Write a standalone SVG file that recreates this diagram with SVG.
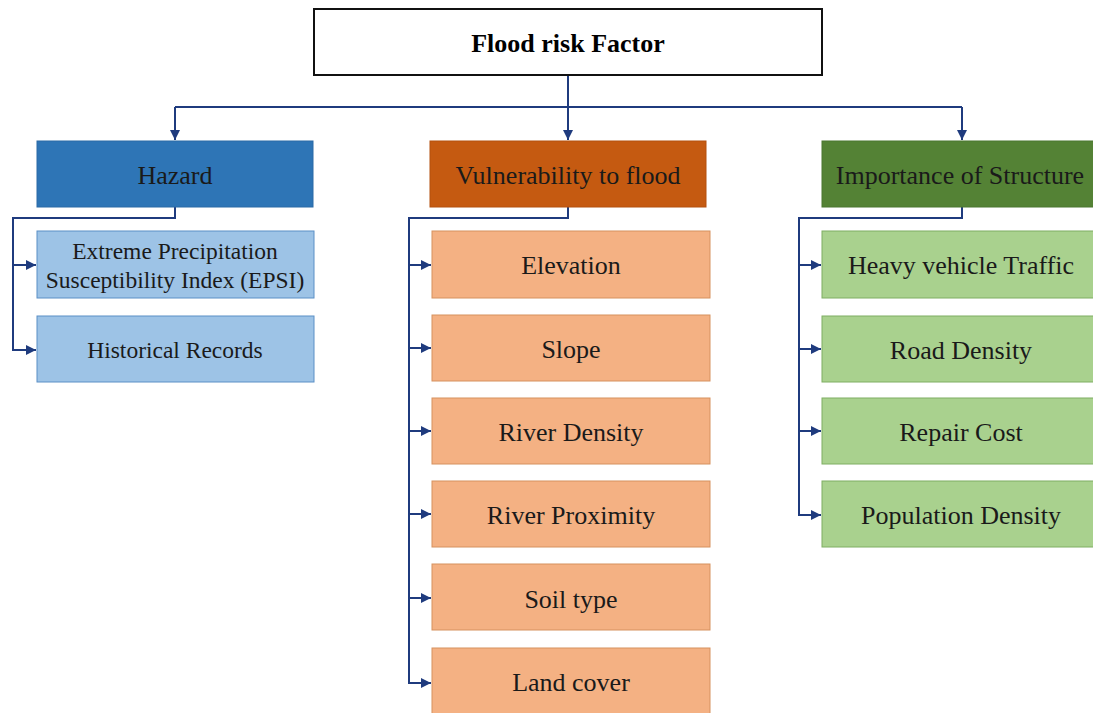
<svg xmlns="http://www.w3.org/2000/svg" width="1093" height="713" viewBox="0 0 1093 713">
<style>
text{font-family:'Liberation Serif','Times New Roman','DejaVu Serif',serif;font-size:26px;fill:#1a1a1a;text-anchor:middle;dominant-baseline:central}
.title{font-weight:bold;font-size:26px;fill:#000}
.s{font-size:23.5px}
.c{fill:none;stroke:#1f3b7e;stroke-width:2}
.hz{fill:#2e75b6;stroke:#2a6aa6;stroke-width:1}
.vu{fill:#c55a11;stroke:#b4510f;stroke-width:1}
.im{fill:#548235;stroke:#4b7630;stroke-width:1}
.hzc{fill:#9dc3e6;stroke:#5b8fc6;stroke-width:1}
.vuc{fill:#f4b183;stroke:#d6915f;stroke-width:1}
.imc{fill:#a9d18e;stroke:#7fae62;stroke-width:1}
</style>
<defs>
<marker id="a" viewBox="0 0 10 10" refX="10" refY="5" markerWidth="5" markerHeight="5" orient="auto" markerUnits="strokeWidth">
<path d="M0,0 L10,5 L0,10 z" fill="#1f3b7e"/>
</marker>
</defs>
<g id="connectors">
<path class="c" d="M568,75 V140" marker-end="url(#a)"/>
<path class="c" d="M175,107 H962"/>
<path class="c" d="M175,107 V140" marker-end="url(#a)"/>
<path class="c" d="M962,107 V140" marker-end="url(#a)"/>
<path class="c" d="M175,207 V218 H13 V350 H36" marker-end="url(#a)"/>
<path class="c" d="M13,265 H36" marker-end="url(#a)"/>
<path class="c" d="M568,207 V218 H409 V683 H431" marker-end="url(#a)"/>
<path class="c" d="M409,265 H431" marker-end="url(#a)"/>
<path class="c" d="M409,348 H431" marker-end="url(#a)"/>
<path class="c" d="M409,431 H431" marker-end="url(#a)"/>
<path class="c" d="M409,514 H431" marker-end="url(#a)"/>
<path class="c" d="M409,598 H431" marker-end="url(#a)"/>
<path class="c" d="M962,207 V218 H799 V515 H821" marker-end="url(#a)"/>
<path class="c" d="M799,265 H821" marker-end="url(#a)"/>
<path class="c" d="M799,349 H821" marker-end="url(#a)"/>
<path class="c" d="M799,431 H821" marker-end="url(#a)"/>
</g>
<g id="root"><rect x="314" y="9" width="508" height="66" fill="#fff" stroke="#111" stroke-width="2"/><text class="title" x="568" y="43">Flood risk Factor</text></g>
<g id="hazard"><rect class="hz" x="37" y="141" width="276" height="66"/><text x="175" y="175">Hazard</text></g>
<g id="vulnerability"><rect class="vu" x="430" y="141" width="276" height="66"/><text x="568" y="175">Vulnerability to flood</text></g>
<g id="importance"><rect class="im" x="822" y="141" width="276" height="66"/><text x="960" y="175">Importance of Structure</text></g>
<g id="epsi"><rect class="hzc" x="37" y="231" width="277" height="67"/><text class="s" x="175" y="251">Extreme Precipitation</text><text class="s" x="175" y="280">Susceptibility Index (EPSI)</text></g>
<g id="historical"><rect class="hzc" x="37" y="316" width="277" height="66"/><text class="s" x="175" y="350">Historical Records</text></g>
<g id="elevation"><rect class="vuc" x="432" y="231" width="278" height="67"/><text x="571" y="265">Elevation</text></g>
<g id="slope"><rect class="vuc" x="432" y="315" width="278" height="66"/><text x="571" y="349">Slope</text></g>
<g id="riverdensity"><rect class="vuc" x="432" y="398" width="278" height="66"/><text x="571" y="432">River Density</text></g>
<g id="riverproximity"><rect class="vuc" x="432" y="481" width="278" height="66"/><text x="571" y="515">River Proximity</text></g>
<g id="soiltype"><rect class="vuc" x="432" y="564" width="278" height="66"/><text x="571" y="599">Soil type</text></g>
<g id="landcover"><rect class="vuc" x="432" y="648" width="278" height="66"/><text x="571" y="682">Land cover</text></g>
<g id="heavy"><rect class="imc" x="822" y="231" width="276" height="67"/><text x="961" y="265">Heavy vehicle Traffic</text></g>
<g id="road"><rect class="imc" x="822" y="316" width="276" height="66"/><text x="961" y="350">Road Density</text></g>
<g id="repair"><rect class="imc" x="822" y="398" width="276" height="66"/><text x="961" y="432">Repair Cost</text></g>
<g id="population"><rect class="imc" x="822" y="481" width="276" height="66"/><text x="961" y="515">Population Density</text></g>
</svg>
